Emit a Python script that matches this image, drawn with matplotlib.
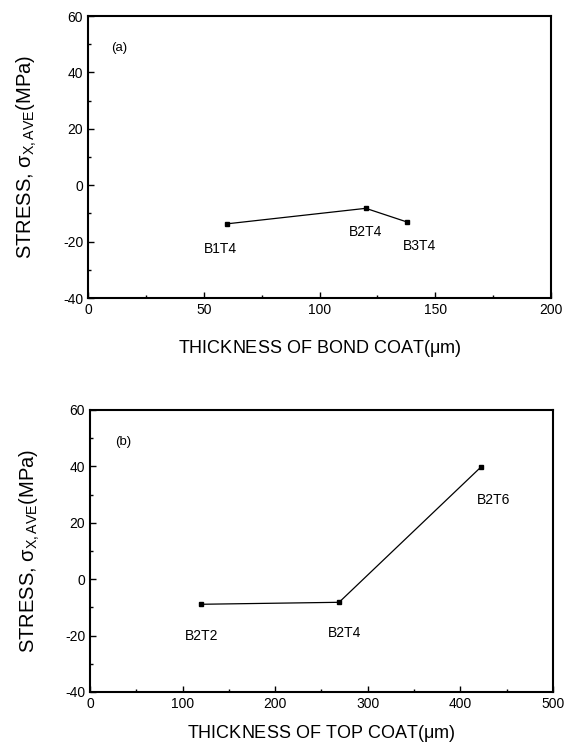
import matplotlib
matplotlib.use('Agg')
import matplotlib.pyplot as plt
from matplotlib.ticker import MultipleLocator

# ---------------------------------- data ---------------------------------- #
bond_x = [60, 120, 138]
bond_y = [-13.7, -8.2, -13.1]
bond_names = ['B1T4', 'B2T4', 'B3T4']
bond_label_x = [57, 120, 143]
bond_label_y = [-22.5, -16.5, -21.5]

top_x = [120, 269, 422]
top_y = [-8.9, -8.2, 39.7]
top_names = ['B2T2', 'B2T4', 'B2T6']
top_label_x = [121, 275, 436]
top_label_y = [-20.3, -19.2, 27.9]

plt.rcParams['font.family'] = ['Liberation Sans', 'DejaVu Sans']
plt.rcParams['mathtext.fontset'] = 'custom'
plt.rcParams['mathtext.rm'] = 'Liberation Sans'
plt.rcParams['mathtext.it'] = 'Liberation Sans:italic'
plt.rcParams['axes.unicode_minus'] = False

fig = plt.figure(figsize=(5.66, 7.48), dpi=100)
ax1 = fig.add_axes([0.1555, 0.6016, 0.818, 0.377])
ax2 = fig.add_axes([0.159, 0.0749, 0.818, 0.377])

ylab = r'STRESS, $\mathrm{\sigma_{X,AVE}}$(MPa)'

def style(ax, xmax, xmajor, panel, tx, ty):
    ax.set_xlim(0, xmax)
    ax.set_ylim(-40, 60)
    ax.xaxis.set_major_locator(MultipleLocator(xmajor))
    ax.xaxis.set_minor_locator(MultipleLocator(xmajor / 2))
    ax.yaxis.set_major_locator(MultipleLocator(20))
    ax.yaxis.set_minor_locator(MultipleLocator(10))
    ax.tick_params(which='both', direction='in', top=False, right=False,
                   labelsize=10, width=1)
    ax.tick_params(which='major', length=4.5)
    ax.tick_params(which='minor', length=2.5)
    for s in ax.spines.values():
        s.set_linewidth(1.5)
    ax.set_ylabel(ylab, fontsize=14.5)
    ax.text(tx, ty, panel, fontsize=9.5, ha='center', va='center')

# ---------------------------------- (a) ----------------------------------- #
ax1.plot(bond_x, bond_y, '-', color='black', lw=0.9, marker='s', ms=3.5)
for n, lx, ly in zip(bond_names, bond_label_x, bond_label_y):
    ax1.text(lx, ly, n, fontsize=10, ha='center', va='center')
style(ax1, 200, 50, '(a)', 13.5, 48.5)
ax1.set_xlabel(r'THICKNESS OF BOND COAT($\mathrm{\mu}$m)', fontsize=13,
               labelpad=15)
ax1.yaxis.set_label_coords(-0.105, 0.5)

# ---------------------------------- (b) ----------------------------------- #
ax2.plot(top_x, top_y, '-', color='black', lw=0.9, marker='s', ms=3.5)
for n, lx, ly in zip(top_names, top_label_x, top_label_y):
    ax2.text(lx, ly, n, fontsize=10, ha='center', va='center')
style(ax2, 500, 100, '(b)', 36, 48.5)
ax2.set_xlabel(r'THICKNESS OF TOP COAT($\mathrm{\mu}$m)', fontsize=13,
               labelpad=9)
ax2.yaxis.set_label_coords(-0.103, 0.5)

plt.savefig('out.png', dpi=100)
plt.close('all')
